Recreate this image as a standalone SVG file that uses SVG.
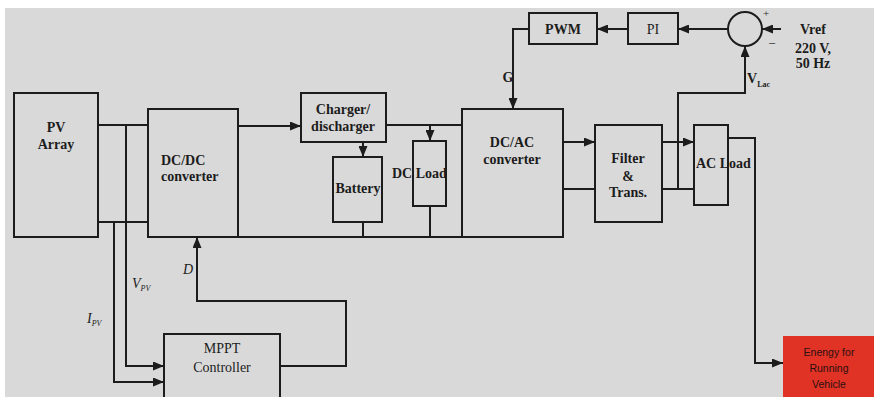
<svg xmlns="http://www.w3.org/2000/svg" width="874" height="397" viewBox="0 0 874 397">
<defs>
<style>
.box{fill:#d9d9d9;stroke:#1c1c1c;stroke-width:2}
.wire{fill:none;stroke:#1c1c1c;stroke-width:2}
.arr{marker-end:url(#ah)}
.t{font-family:"Liberation Serif","Times New Roman",serif;font-weight:bold;font-size:14px;fill:#1c1c1c;text-anchor:middle}
.r{font-weight:normal}
.i{font-family:"Liberation Serif","Times New Roman",serif;font-style:italic;font-size:14px;fill:#1c1c1c}
.s{font-size:8px}
.red{font-family:"Liberation Sans",Arial,sans-serif;font-size:10.5px;fill:#2a1010;text-anchor:middle}
</style>
<marker id="ah" markerWidth="11" markerHeight="9" refX="11" refY="4.5" orient="auto" markerUnits="userSpaceOnUse">
<path d="M0,0 L11,4.5 L0,9 z" fill="#1c1c1c"/>
</marker>
</defs>
<rect x="0" y="0" width="874" height="397" fill="#ffffff"/>
<rect x="5" y="8" width="869" height="389" fill="#d9d9d9"/>

<g id="connectors">
<!-- PV to DC/DC -->
<path class="wire" d="M98,125 H148"/>
<path class="wire" d="M98,222 H148"/>
<!-- V_PV, I_PV to MPPT -->
<path class="wire arr" d="M126,125 V366 H164"/>
<path class="wire arr" d="M114,222 V382 H164"/>
<!-- MPPT D feedback -->
<path class="wire arr" d="M280,366 H346 V301 H197 V237"/>
<!-- DC/DC to charger -->
<path class="wire arr" d="M238,126 H301"/>
<!-- bottom bus -->
<path class="wire" d="M238,237 H462"/>
<!-- charger to battery -->
<path class="wire arr" d="M363,142 V157"/>
<path class="wire" d="M363,222 V237"/>
<!-- charger to DC/AC and DC load -->
<path class="wire" d="M386,125 H462"/>
<path class="wire arr" d="M430,125 V141"/>
<path class="wire" d="M430,206 V237"/>
<!-- DC/AC to filter -->
<path class="wire arr" d="M563,142 H595"/>
<path class="wire" d="M563,189 H595"/>
<!-- filter to AC load -->
<path class="wire arr" d="M662,142 H694"/>
<path class="wire" d="M662,189 H694"/>
<!-- VLac feedback -->
<path class="wire arr" d="M678,189 V93 H745 V46"/>
<!-- comparator to PI -->
<path class="wire arr" d="M728,29 H678"/>
<path class="wire arr" d="M628,29 H597"/>
<path class="wire arr" d="M529,29 H513 V109"/>
<!-- Vref -->
<path class="wire arr" d="M781,29 H762"/>
<!-- AC load to vehicle -->
<path class="wire arr" d="M728,138 H755 V363 H783"/>
</g>

<g id="pv-array">
<rect class="box" x="14" y="93" width="84" height="144"/>
<text class="t" x="56" y="132">PV</text>
<text class="t" x="56" y="149">Array</text>
</g>
<g id="dcdc">
<rect class="box" x="148" y="109" width="90" height="128"/>
<text class="t" x="161" y="165" style="text-anchor:start">DC/DC</text>
<text class="t" x="161" y="181" style="text-anchor:start">converter</text>
</g>
<g id="charger">
<rect class="box" x="301" y="93" width="85" height="49"/>
<text class="t" x="343" y="114">Charger/</text>
<text class="t" x="343" y="131">discharger</text>
</g>
<g id="battery">
<rect class="box" x="333" y="157" width="49" height="65"/>
<text class="t" x="358" y="193">Battery</text>
</g>
<g id="dcload">
<rect class="box" x="413" y="141" width="33" height="65"/>
<text class="t" x="392" y="178" style="text-anchor:start">DC  Load</text>
</g>
<g id="dcac">
<rect class="box" x="462" y="109" width="101" height="128"/>
<text class="t" x="512" y="147">DC/AC</text>
<text class="t" x="512" y="164">converter</text>
</g>
<g id="filter">
<rect class="box" x="595" y="125" width="67" height="97"/>
<text class="t" x="628" y="163">Filter</text>
<text class="t" x="628" y="181">&amp;</text>
<text class="t" x="628" y="197">Trans.</text>
</g>
<g id="acload">
<rect class="box" x="694" y="125" width="34" height="80"/>
<text class="t" x="696" y="168" style="text-anchor:start">AC Load</text>
</g>
<g id="pwm">
<rect class="box" x="529" y="13" width="68" height="31"/>
<text class="t" x="563" y="34">PWM</text>
</g>
<g id="pi">
<rect class="box" x="628" y="13" width="50" height="31"/>
<text class="t r" x="653" y="34">PI</text>
</g>
<g id="comparator">
<circle class="box" cx="745" cy="29" r="17"/>
<text class="t r" x="766" y="17" style="font-size:11px">+</text>
<text class="t r" x="772" y="48" style="font-size:13px">−</text>
</g>
<g id="vref">
<text class="t" x="813" y="34">Vref</text>
<text class="t" x="813" y="53">220 V,</text>
<text class="t" x="813" y="68">50 Hz</text>
</g>
<g id="mppt">
<rect class="box" x="164" y="334" width="116" height="70"/>
<text class="t r" x="222" y="353">MPPT</text>
<text class="t r" x="222" y="372">Controller</text>
</g>
<g id="vehicle">
<rect x="783" y="336" width="91" height="61" fill="#e03326"/>
<text class="red" x="829" y="356">Enengy for</text>
<text class="red" x="829" y="372">Running</text>
<text class="red" x="829" y="388">Vehicle</text>
</g>
<g id="labels">
<text class="t" x="508" y="82">G</text>
<text class="t" x="747" y="83" style="text-anchor:start">V<tspan class="s" dy="4">Lac</tspan></text>
<text class="i" x="183" y="274">D</text>
<text class="i" x="132" y="288">V<tspan class="s" dy="3">PV</tspan></text>
<text class="i" x="87" y="323">I<tspan class="s" dy="3">PV</tspan></text>
</g>
</svg>
